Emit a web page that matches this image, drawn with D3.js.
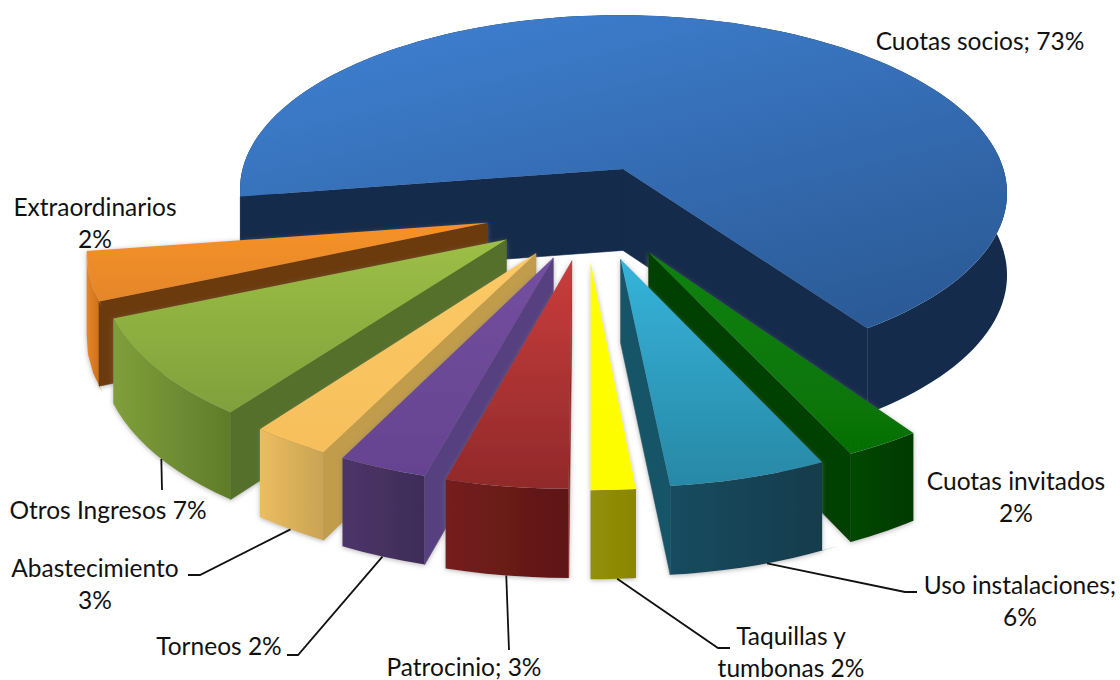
<!DOCTYPE html>
<html>
<head>
<meta charset="utf-8">
<script src="https://cdn.jsdelivr.net/npm/d3@7/dist/d3.min.js"></script>
<style>
  html, body { margin: 0; background: #fff; }
  text { font-family: Lato, "Open Sans", sans-serif; font-size: 24.5px; fill: #111; }
</style>
</head>
<body>
<svg id="chart" width="1120" height="680"></svg>
<script>
// chart data
const categories = ["Cuotas socios", "Cuotas invitados", "Uso instalaciones", "Taquillas y tumbonas",
    "Patrocinio", "Torneos", "Abastecimiento", "Otros Ingresos", "Extraordinarios"];
const shares = [73, 2, 6, 2, 3, 2, 3, 7, 2];

// colours: top light, top dark, rim light, rim dark, radial wall
const topLight = ["#3e7fd0", "#0b8309", "#35b4da", "#ffff00", "#c93d3c", "#744f9f", "#fcc966", "#9dbf46", "#f69228"];
const topDark = ["#2b5a96", "#067006", "#2888a6", "#fdfd00", "#91292a", "#654391", "#f6bf5c", "#7fa03b", "#e38529"];
const rimLight = ["#152b4b", "#044704", "#184c60", "#94900a", "#751d1b", "#4c3569", "#ecbd60", "#809f3b", "#e98526"];
const rimDark = ["#152b4b", "#023a02", "#123a48", "#8a8600", "#5e1717", "#3f2c58", "#c9a355", "#5f7c2a", "#c26c1a"];
const wallColor = ["#152b4b", "#043f03", "#195468", "#d8d8a0", "#8c2a28", "#57417f", "#c09c4b", "#54702b", "#6c3b0b"];

// projection settings
const cx = 591, cy = 189, radius = 386, depth = 82, persp = 3000, tilt = 0.462, explode = 115;

// excel squeezes the big slice on screen, so pie angles get bent a bit
// (the .01 knots let neighbouring slices disagree about their shared edge)
const startDeg = -115;
const bend = d3.scaleLinear()
    .domain([-115, 147.8, 147.81, 155, 155.01, 176.6, 176.61, 183.8, 194.6, 201.8, 212.6, 212.61, 237.8, 237.81, 245])
    .range([-99, 145.5, 144, 155, 150, 174.5, 173.5, 180, 195.3, 206.5, 216.5, 214, 247, 239, 261.5]);

const rad = (d) => d * Math.PI / 180;

const slices = d3.pie().sort(null)
    .startAngle(rad(startDeg)).endAngle(rad(startDeg + 360))(shares);

function project(x, y, z) {
    const s = persp / (persp - y);
    return [cx + x * s, cy + y * tilt * s + z * depth * (1 + (s - 1) * 0.4)];
}

// offset of a slice from the pie centre, along the real pie bisector
function offset(d) {
    const mid = (d.startAngle + d.endAngle) / 2;
    const squash = d.index == 0 ? 0.4 : 1.3;
    return [explode * Math.sin(mid), squash * explode * -Math.cos(mid)];
}

// a hair inside the slice so the .01 knots pick the slice's own side
function rimPoint(d, a, z) {
    const [ox, oy] = offset(d);
    const inner = Math.max(d.startAngle + 1e-5, Math.min(d.endAngle - 1e-5, a));
    const t = rad(bend(inner * 180 / Math.PI));
    return project(ox + radius * Math.sin(t), oy - radius * Math.cos(t), z);
}

function apex(d, z) {
    const [ox, oy] = offset(d);
    return project(ox, oy, z);
}

function rimAngles(d) {
    const n = Math.max(4, Math.ceil((d.endAngle - d.startAngle) / rad(2)));
    return d3.range(n + 1).map((i) => d.startAngle + (d.endAngle - d.startAngle) * i / n);
}

const line = d3.line();
const svg = d3.select("#chart");
const defs = svg.append("defs");

const blur = defs.append("filter").attr("id", "soft")
    .attr("x", "-10%").attr("y", "-10%").attr("width", "120%").attr("height", "120%");
blur.append("feDropShadow").attr("dx", 0).attr("dy", 1).attr("stdDeviation", 2.5)
    .attr("flood-color", "#777").attr("flood-opacity", 0.55);

shares.forEach((v, i) => {
    const top = defs.append("linearGradient").attr("id", "top" + i)
        .attr("x1", i == 0 ? 0.2 : 0.5).attr("y1", 0).attr("x2", i == 0 ? 0.8 : 0.5).attr("y2", 1);
    top.append("stop").attr("offset", 0).attr("stop-color", topLight[i]);
    top.append("stop").attr("offset", 1).attr("stop-color", topDark[i]);
    const rim = defs.append("linearGradient").attr("id", "rim" + i);
    rim.append("stop").attr("offset", 0).attr("stop-color", rimLight[i]);
    rim.append("stop").attr("offset", 1).attr("stop-color", rimDark[i]);
});

// paint far slices first
const order = d3.range(slices.length).sort((a, b) => offset(slices[a])[1] - offset(slices[b])[1]);

order.forEach((i) => {
    const d = slices[i];
    const g = svg.append("g").attr("filter", i == 0 ? null : "url(#soft)");
    const angles = rimAngles(d);
    const topRim = angles.map((a) => rimPoint(d, a, 0));
    const lowRim = angles.map((a) => rimPoint(d, a, 1));

    g.append("path")
        .attr("d", line(topRim.concat(lowRim.slice().reverse())) + "Z")
        .attr("fill", `url(#rim${i})`);

    // radial walls that face the viewer
    [d.startAngle, d.endAngle].forEach((a, k) => {
        const t = rad(bend(a * 180 / Math.PI));
        const facing = k == 0 ? Math.sin(t) < 0 : Math.sin(t) > 0;
        if (!facing) return;
        g.append("path")
            .attr("d", line([apex(d, 0), rimPoint(d, a, 0), rimPoint(d, a, 1), apex(d, 1)]) + "Z")
            .attr("fill", wallColor[i])
            .attr("stroke", wallColor[i]).attr("stroke-width", 0.6);
    });

    g.append("path")
        .attr("d", line([apex(d, 0)].concat(topRim)) + "Z")
        .attr("fill", `url(#top${i})`);
});

// labels and their leader lines, hand placed like the original
const labelLayout = [
    { i: 0, x: 980, y: 50, lines: ["Cuotas socios; 73%"] },
    { i: 1, x: 1016, y: 490, lines: ["Cuotas invitados", "2%"] },
    { i: 2, x: 1020, y: 594, lines: ["Uso instalaciones;", "6%"], leader: [[905, 592], [917, 592]] },
    { i: 3, x: 791, y: 645, lines: ["Taquillas y", "tumbonas 2%"], leader: [[718, 648], [730, 648]] },
    { i: 4, x: 464, y: 676, lines: ["Patrocinio; 3%"], leader: [[509, 650]] },
    { i: 5, x: 219, y: 655, lines: ["Torneos 2%"], leader: [[298, 655], [287, 655]] },
    { i: 6, x: 95, y: 577, lines: ["Abastecimiento", "3%"], leader: [[200, 575], [188, 575]] },
    { i: 7, x: 108, y: 519, lines: ["Otros Ingresos 7%"], leader: [[162, 490]] },
    { i: 8, x: 95, y: 216, lines: ["Extraordinarios", "2%"] }
];

labelLayout.forEach((l) => {
    const d = slices[l.i];
    if (l.leader) {
        const a = (d.startAngle + d.endAngle) / 2;
        svg.append("path")
            .attr("d", line([rimPoint(d, a, 1)].concat(l.leader)))
            .attr("fill", "none").attr("stroke", "#111").attr("stroke-width", 1.8);
    }
    const t = svg.append("text").attr("text-anchor", "middle");
    l.lines.forEach((s, k) => {
        t.append("tspan").attr("x", l.x).attr("y", l.y + k * 32).text(s);
    });
});
</script>
</body>
</html>
